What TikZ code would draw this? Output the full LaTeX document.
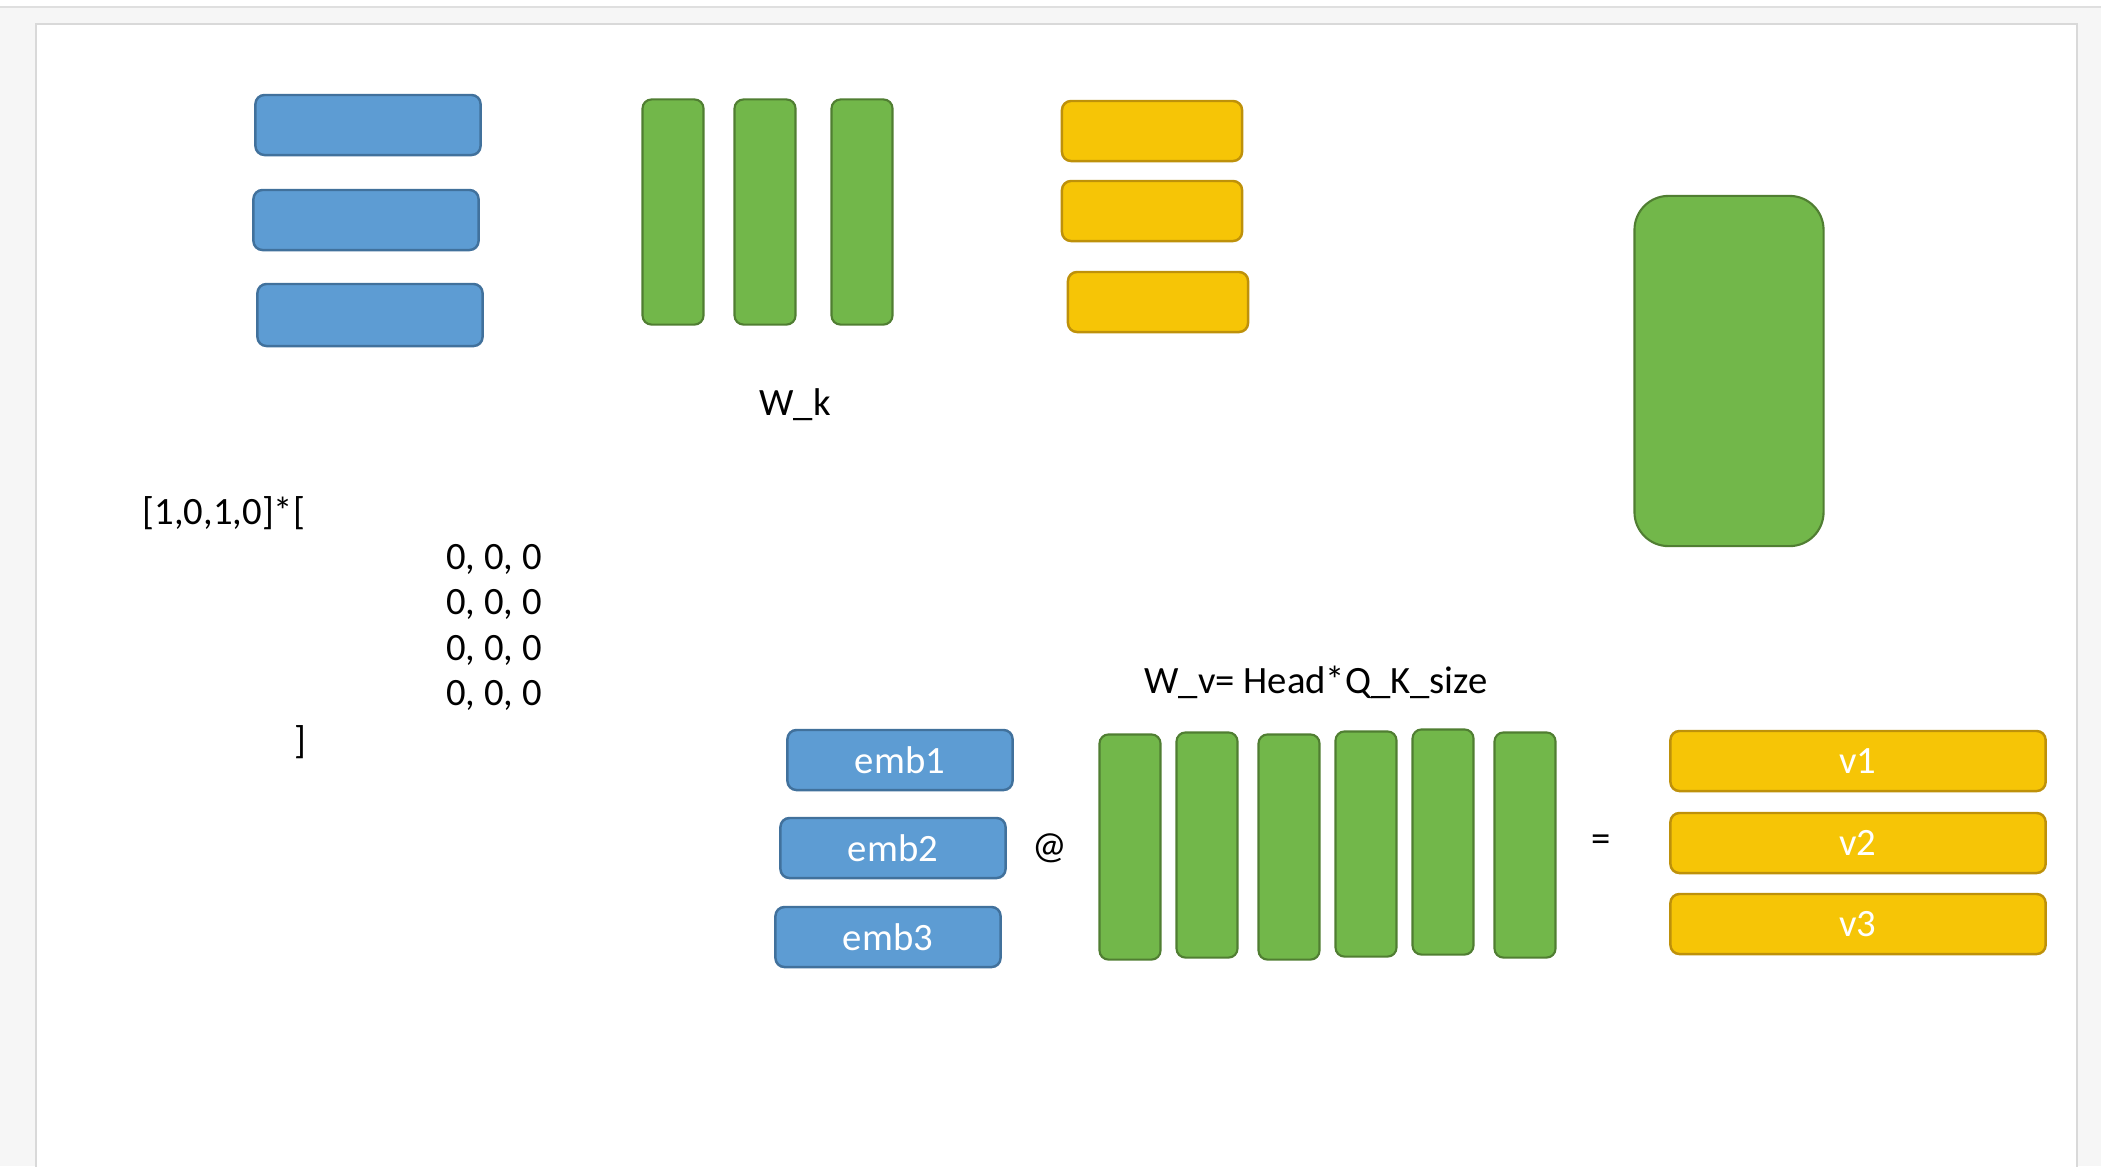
\documentclass[tikz,border=0pt]{standalone}
\usepackage{fontspec}
\setmainfont{Carlito}
\usepackage{tikz}
\usetikzlibrary{positioning}

\definecolor{embblue}{RGB}{93,156,211}
\definecolor{embblueline}{RGB}{65,113,156}
\definecolor{wgreen}{RGB}{114,183,74}
\definecolor{wgreenline}{RGB}{80,126,50}
\definecolor{vgold}{RGB}{246,197,6}
\definecolor{vgoldline}{RGB}{190,145,10}

\begin{document}
\begin{tikzpicture}[
    x=0.01cm, y=-0.01cm,
    bluebox/.style={rectangle, rounded corners=0.09cm, draw=embblueline, fill=embblue, line width=0.7pt, minimum width=2.25cm, minimum height=0.6cm, text=white, font=\fontsize{11}{13}\selectfont},
    greenbar/.style={rectangle, rounded corners=0.09cm, draw=wgreenline, fill=wgreen, line width=0.6pt, minimum width=0.61cm, minimum height=2.25cm, inner sep=0pt},
    goldbox/.style={rectangle, rounded corners=0.09cm, draw=vgoldline, fill=vgold, line width=0.7pt, minimum width=1.8cm, minimum height=0.6cm, text=white, font=\fontsize{11}{13}\selectfont},
    txt/.style={font=\fontsize{11}{13}\selectfont, inner sep=0pt}
]

% Page
\useasboundingbox (0,0) rectangle (2101,1166);
\fill[gray!7] (0,0) rectangle (2101,1166);
\fill[white] (0,0) rectangle (2101,7);
\draw[gray!25, line width=0.6pt] (0,7) -- (2101,7);
\draw[gray!30, fill=white, line width=0.8pt] (36,1170) -- (36,24) -- (2077,24) -- (2077,1170);

% Top row - embeddings
\node[bluebox] (e1) at (368,125) {};
\node[bluebox] (e2) at (366,220) {};
\node[bluebox, minimum height=0.62cm] (e3) at (370,315) {};

% Top row - W_k
\node[greenbar] (wk1) at (673,212) {};
\node[greenbar] (wk2) at (765,212) {};
\node[greenbar] (wk3) at (862,212) {};
\node[txt] (wklabel) at (795,405) {W\_k};

% Top row - keys
\node[goldbox] (k1) at (1152,131) {};
\node[goldbox] (k2) at (1152,211) {};
\node[goldbox] (k3) at (1158,302) {};

% Big block
\node[greenbar, rounded corners=0.34cm, minimum width=1.89cm, minimum height=3.5cm] (big) at (1729,371) {};

% One-hot times matrix
\node[txt, anchor=west] (onehot) at (142,513) {[1,0,1,0]*[};
\node[txt] (row1) at (494,559) {0, 0, 0};
\node[txt] (row2) at (494,604) {0, 0, 0};
\node[txt] (row3) at (494,650) {0, 0, 0};
\node[txt] (row4) at (494,695) {0, 0, 0};
\node[txt] (close) at (300,742) {]};

% W_v product
\node[txt] (wvlabel) at (1316,682) {W\_v= Head*Q\_K\_size};

\node[bluebox] (emb1) at (900,760) {emb1};
\node[bluebox] (emb2) at (893,848) {emb2};
\node[bluebox] (emb3) at (888,937) {emb3};

\node[txt] (at) at (1050,848) {@};

\node[greenbar] (wv1) at (1130,847) {};
\node[greenbar] (wv2) at (1207,845) {};
\node[greenbar] (wv3) at (1289,847) {};
\node[greenbar] (wv4) at (1366,844) {};
\node[greenbar] (wv5) at (1443,842) {};
\node[greenbar] (wv6) at (1525,845) {};

\node[txt] (eq) at (1601,843) {=};

\node[goldbox, minimum width=3.75cm] (v1) at (1858,761) {v1};
\node[goldbox, minimum width=3.75cm] (v2) at (1858,843) {v2};
\node[goldbox, minimum width=3.75cm] (v3) at (1858,924) {v3};

\end{tikzpicture}
\end{document}
